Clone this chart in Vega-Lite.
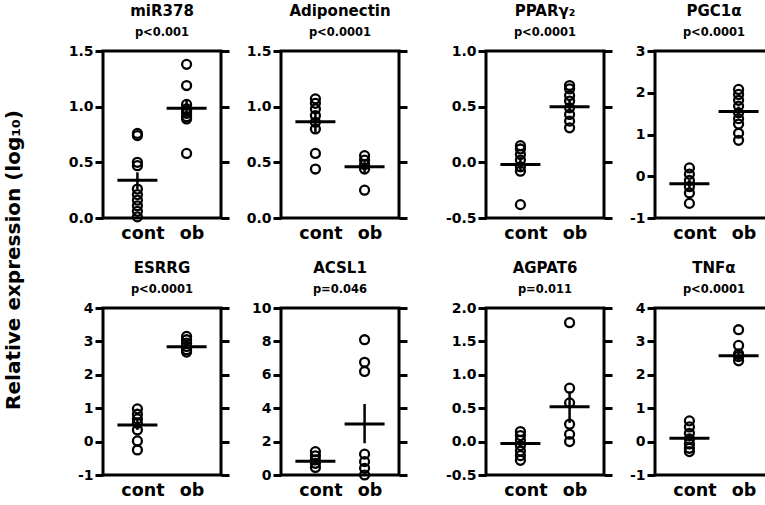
{
  "$schema": "https://vega.github.io/schema/vega-lite/v6.json",
  "padding": {"left": 3, "top": 2, "right": 5, "bottom": 3},
  "background": "white",
  "title": {"text": "Relative expression (log₁₀)", "orient": "left", "anchor": "middle", "frame": "bounds", "fontSize": 20, "fontWeight": "bold", "font": "DejaVu Sans", "color": "black", "offset": 43, "dx": -9},
  "datasets": {
    "points": [
      {"gene": "miR378", "group": "cont", "value": 0.76},
      {"gene": "miR378", "group": "cont", "value": 0.74},
      {"gene": "miR378", "group": "cont", "value": 0.50},
      {"gene": "miR378", "group": "cont", "value": 0.47},
      {"gene": "miR378", "group": "cont", "value": 0.26},
      {"gene": "miR378", "group": "cont", "value": 0.21},
      {"gene": "miR378", "group": "cont", "value": 0.16},
      {"gene": "miR378", "group": "cont", "value": 0.11},
      {"gene": "miR378", "group": "cont", "value": 0.06},
      {"gene": "miR378", "group": "cont", "value": 0.01},
      {"gene": "miR378", "group": "ob", "value": 1.38},
      {"gene": "miR378", "group": "ob", "value": 1.19},
      {"gene": "miR378", "group": "ob", "value": 1.02},
      {"gene": "miR378", "group": "ob", "value": 0.98},
      {"gene": "miR378", "group": "ob", "value": 0.96},
      {"gene": "miR378", "group": "ob", "value": 0.94},
      {"gene": "miR378", "group": "ob", "value": 0.91},
      {"gene": "miR378", "group": "ob", "value": 0.89},
      {"gene": "miR378", "group": "ob", "value": 0.58},
      {"gene": "Adiponectin", "group": "cont", "value": 1.07},
      {"gene": "Adiponectin", "group": "cont", "value": 1.03},
      {"gene": "Adiponectin", "group": "cont", "value": 0.98},
      {"gene": "Adiponectin", "group": "cont", "value": 0.92},
      {"gene": "Adiponectin", "group": "cont", "value": 0.86},
      {"gene": "Adiponectin", "group": "cont", "value": 0.80},
      {"gene": "Adiponectin", "group": "cont", "value": 0.58},
      {"gene": "Adiponectin", "group": "cont", "value": 0.44},
      {"gene": "Adiponectin", "group": "ob", "value": 0.56},
      {"gene": "Adiponectin", "group": "ob", "value": 0.52},
      {"gene": "Adiponectin", "group": "ob", "value": 0.48},
      {"gene": "Adiponectin", "group": "ob", "value": 0.44},
      {"gene": "Adiponectin", "group": "ob", "value": 0.25},
      {"gene": "PPARγ₂", "group": "cont", "value": 0.15},
      {"gene": "PPARγ₂", "group": "cont", "value": 0.12},
      {"gene": "PPARγ₂", "group": "cont", "value": 0.07},
      {"gene": "PPARγ₂", "group": "cont", "value": 0.02},
      {"gene": "PPARγ₂", "group": "cont", "value": -0.04},
      {"gene": "PPARγ₂", "group": "cont", "value": -0.08},
      {"gene": "PPARγ₂", "group": "cont", "value": -0.38},
      {"gene": "PPARγ₂", "group": "ob", "value": 0.69},
      {"gene": "PPARγ₂", "group": "ob", "value": 0.66},
      {"gene": "PPARγ₂", "group": "ob", "value": 0.60},
      {"gene": "PPARγ₂", "group": "ob", "value": 0.55},
      {"gene": "PPARγ₂", "group": "ob", "value": 0.49},
      {"gene": "PPARγ₂", "group": "ob", "value": 0.43},
      {"gene": "PPARγ₂", "group": "ob", "value": 0.37},
      {"gene": "PPARγ₂", "group": "ob", "value": 0.31},
      {"gene": "PGC1α", "group": "cont", "value": 0.20},
      {"gene": "PGC1α", "group": "cont", "value": 0.05},
      {"gene": "PGC1α", "group": "cont", "value": -0.10},
      {"gene": "PGC1α", "group": "cont", "value": -0.25},
      {"gene": "PGC1α", "group": "cont", "value": -0.40},
      {"gene": "PGC1α", "group": "cont", "value": -0.65},
      {"gene": "PGC1α", "group": "ob", "value": 2.08},
      {"gene": "PGC1α", "group": "ob", "value": 1.96},
      {"gene": "PGC1α", "group": "ob", "value": 1.82},
      {"gene": "PGC1α", "group": "ob", "value": 1.68},
      {"gene": "PGC1α", "group": "ob", "value": 1.52},
      {"gene": "PGC1α", "group": "ob", "value": 1.38},
      {"gene": "PGC1α", "group": "ob", "value": 1.25},
      {"gene": "PGC1α", "group": "ob", "value": 1.03},
      {"gene": "PGC1α", "group": "ob", "value": 0.86},
      {"gene": "ESRRG", "group": "cont", "value": 0.98},
      {"gene": "ESRRG", "group": "cont", "value": 0.82},
      {"gene": "ESRRG", "group": "cont", "value": 0.68},
      {"gene": "ESRRG", "group": "cont", "value": 0.55},
      {"gene": "ESRRG", "group": "cont", "value": 0.35},
      {"gene": "ESRRG", "group": "cont", "value": 0.02},
      {"gene": "ESRRG", "group": "cont", "value": -0.25},
      {"gene": "ESRRG", "group": "ob", "value": 3.15},
      {"gene": "ESRRG", "group": "ob", "value": 3.05},
      {"gene": "ESRRG", "group": "ob", "value": 2.95},
      {"gene": "ESRRG", "group": "ob", "value": 2.85},
      {"gene": "ESRRG", "group": "ob", "value": 2.75},
      {"gene": "ESRRG", "group": "ob", "value": 2.68},
      {"gene": "ACSL1", "group": "cont", "value": 1.40},
      {"gene": "ACSL1", "group": "cont", "value": 1.15},
      {"gene": "ACSL1", "group": "cont", "value": 0.90},
      {"gene": "ACSL1", "group": "cont", "value": 0.70},
      {"gene": "ACSL1", "group": "cont", "value": 0.45},
      {"gene": "ACSL1", "group": "ob", "value": 8.10},
      {"gene": "ACSL1", "group": "ob", "value": 6.75},
      {"gene": "ACSL1", "group": "ob", "value": 6.20},
      {"gene": "ACSL1", "group": "ob", "value": 1.25},
      {"gene": "ACSL1", "group": "ob", "value": 0.80},
      {"gene": "ACSL1", "group": "ob", "value": 0.40},
      {"gene": "ACSL1", "group": "ob", "value": 0.00},
      {"gene": "AGPAT6", "group": "cont", "value": 0.15},
      {"gene": "AGPAT6", "group": "cont", "value": 0.09},
      {"gene": "AGPAT6", "group": "cont", "value": 0.02},
      {"gene": "AGPAT6", "group": "cont", "value": -0.06},
      {"gene": "AGPAT6", "group": "cont", "value": -0.14},
      {"gene": "AGPAT6", "group": "cont", "value": -0.21},
      {"gene": "AGPAT6", "group": "cont", "value": -0.28},
      {"gene": "AGPAT6", "group": "ob", "value": 1.78},
      {"gene": "AGPAT6", "group": "ob", "value": 0.80},
      {"gene": "AGPAT6", "group": "ob", "value": 0.58},
      {"gene": "AGPAT6", "group": "ob", "value": 0.26},
      {"gene": "AGPAT6", "group": "ob", "value": 0.11},
      {"gene": "AGPAT6", "group": "ob", "value": 0.00},
      {"gene": "TNFα", "group": "cont", "value": 0.62},
      {"gene": "TNFα", "group": "cont", "value": 0.44},
      {"gene": "TNFα", "group": "cont", "value": 0.25},
      {"gene": "TNFα", "group": "cont", "value": 0.08},
      {"gene": "TNFα", "group": "cont", "value": -0.07},
      {"gene": "TNFα", "group": "cont", "value": -0.20},
      {"gene": "TNFα", "group": "cont", "value": -0.30},
      {"gene": "TNFα", "group": "ob", "value": 3.35},
      {"gene": "TNFα", "group": "ob", "value": 2.88},
      {"gene": "TNFα", "group": "ob", "value": 2.62},
      {"gene": "TNFα", "group": "ob", "value": 2.55},
      {"gene": "TNFα", "group": "ob", "value": 2.42}
    ],
    "summary": [
      {"gene": "miR378", "group": "cont", "mean": 0.34, "lo": 0.26, "hi": 0.41},
      {"gene": "miR378", "group": "ob", "mean": 0.985, "lo": 0.91, "hi": 1.06},
      {"gene": "Adiponectin", "group": "cont", "mean": 0.865, "lo": 0.77, "hi": 0.96},
      {"gene": "Adiponectin", "group": "ob", "mean": 0.46, "lo": 0.41, "hi": 0.51},
      {"gene": "PPARγ₂", "group": "cont", "mean": -0.02, "lo": -0.08, "hi": 0.05},
      {"gene": "PPARγ₂", "group": "ob", "mean": 0.50, "lo": 0.45, "hi": 0.56},
      {"gene": "PGC1α", "group": "cont", "mean": -0.18, "lo": -0.28, "hi": -0.08},
      {"gene": "PGC1α", "group": "ob", "mean": 1.55, "lo": 1.43, "hi": 1.67},
      {"gene": "ESRRG", "group": "cont", "mean": 0.50, "lo": 0.35, "hi": 0.65},
      {"gene": "ESRRG", "group": "ob", "mean": 2.84, "lo": 2.78, "hi": 2.90},
      {"gene": "ACSL1", "group": "cont", "mean": 0.82, "lo": 0.68, "hi": 0.98},
      {"gene": "ACSL1", "group": "ob", "mean": 3.05, "lo": 1.90, "hi": 4.25},
      {"gene": "AGPAT6", "group": "cont", "mean": -0.03, "lo": -0.09, "hi": 0.03},
      {"gene": "AGPAT6", "group": "ob", "mean": 0.52, "lo": 0.28, "hi": 0.75},
      {"gene": "TNFα", "group": "cont", "mean": 0.10, "lo": 0.00, "hi": 0.20},
      {"gene": "TNFα", "group": "ob", "mean": 2.57, "lo": 2.38, "hi": 2.78}
    ]
  },
  "columns": 4,
  "spacing": {"column": 12, "row": 16},
  "concat": [
    {
      "width": 118, "height": 167,
      "title": {"text": "miR378", "subtitle": "p<0.001"},
      "layer": [
        {"data": {"name": "points"}, "transform": [{"filter": "datum.gene === 'miR378'"}],
         "mark": {"type": "point", "shape": "circle", "filled": false, "color": "black", "opacity": 1, "size": 80, "strokeWidth": 2.3},
         "encoding": {"x": {"field": "group", "type": "nominal", "scale": {"type": "point", "padding": 0.7}, "axis": {"title": null}},
                      "y": {"field": "value", "type": "quantitative", "scale": {"domain": [0, 1.5], "nice": false, "zero": false}, "axis": {"title": null, "orient": "left", "values": [0, 0.5, 1, 1.5], "format": ".1f", "labelExpr": "replace(datum.label, '−', '-')"}}}},
        {"data": {"name": "summary"}, "transform": [{"filter": "datum.gene === 'miR378'"}],
         "mark": {"type": "rule", "color": "black", "opacity": 1, "strokeWidth": 2.5},
         "encoding": {"x": {"field": "group", "type": "nominal"},
                      "y": {"field": "lo", "type": "quantitative", "axis": {"title": null, "orient": "right", "labels": false, "values": [0, 0.5, 1, 1.5]}}, "y2": {"field": "hi"}}},
        {"data": {"name": "summary"}, "transform": [{"filter": "datum.gene === 'miR378'"}],
         "mark": {"type": "tick", "color": "black", "opacity": 1, "size": 40, "thickness": 3},
         "encoding": {"x": {"field": "group", "type": "nominal"},
                      "y": {"field": "mean", "type": "quantitative", "axis": null}}}
      ],
      "resolve": {"axis": {"y": "independent"}}
    },
    {
      "width": 118, "height": 167,
      "title": {"text": "Adiponectin", "subtitle": "p<0.0001"},
      "layer": [
        {"data": {"name": "points"}, "transform": [{"filter": "datum.gene === 'Adiponectin'"}],
         "mark": {"type": "point", "shape": "circle", "filled": false, "color": "black", "opacity": 1, "size": 80, "strokeWidth": 2.3},
         "encoding": {"x": {"field": "group", "type": "nominal", "scale": {"type": "point", "padding": 0.7}, "axis": {"title": null}},
                      "y": {"field": "value", "type": "quantitative", "scale": {"domain": [0, 1.5], "nice": false, "zero": false}, "axis": {"title": null, "orient": "left", "values": [0, 0.5, 1, 1.5], "format": ".1f", "labelExpr": "replace(datum.label, '−', '-')"}}}},
        {"data": {"name": "summary"}, "transform": [{"filter": "datum.gene === 'Adiponectin'"}],
         "mark": {"type": "rule", "color": "black", "opacity": 1, "strokeWidth": 2.5},
         "encoding": {"x": {"field": "group", "type": "nominal"},
                      "y": {"field": "lo", "type": "quantitative", "axis": {"title": null, "orient": "right", "labels": false, "values": [0, 0.5, 1, 1.5]}}, "y2": {"field": "hi"}}},
        {"data": {"name": "summary"}, "transform": [{"filter": "datum.gene === 'Adiponectin'"}],
         "mark": {"type": "tick", "color": "black", "opacity": 1, "size": 40, "thickness": 3},
         "encoding": {"x": {"field": "group", "type": "nominal"},
                      "y": {"field": "mean", "type": "quantitative", "axis": null}}}
      ],
      "resolve": {"axis": {"y": "independent"}}
    },
    {
      "width": 118, "height": 167,
      "title": {"text": "PPARγ₂", "subtitle": "p<0.0001"},
      "layer": [
        {"data": {"name": "points"}, "transform": [{"filter": "datum.gene === 'PPARγ₂'"}],
         "mark": {"type": "point", "shape": "circle", "filled": false, "color": "black", "opacity": 1, "size": 80, "strokeWidth": 2.3},
         "encoding": {"x": {"field": "group", "type": "nominal", "scale": {"type": "point", "padding": 0.7}, "axis": {"title": null}},
                      "y": {"field": "value", "type": "quantitative", "scale": {"domain": [-0.5, 1], "nice": false, "zero": false}, "axis": {"title": null, "orient": "left", "minExtent": 62, "values": [-0.5, 0, 0.5, 1], "format": ".1f", "labelExpr": "replace(datum.label, '−', '-')"}}}},
        {"data": {"name": "summary"}, "transform": [{"filter": "datum.gene === 'PPARγ₂'"}],
         "mark": {"type": "rule", "color": "black", "opacity": 1, "strokeWidth": 2.5},
         "encoding": {"x": {"field": "group", "type": "nominal"},
                      "y": {"field": "lo", "type": "quantitative", "axis": {"title": null, "orient": "right", "labels": false, "values": [-0.5, 0, 0.5, 1]}}, "y2": {"field": "hi"}}},
        {"data": {"name": "summary"}, "transform": [{"filter": "datum.gene === 'PPARγ₂'"}],
         "mark": {"type": "tick", "color": "black", "opacity": 1, "size": 40, "thickness": 3},
         "encoding": {"x": {"field": "group", "type": "nominal"},
                      "y": {"field": "mean", "type": "quantitative", "axis": null}}}
      ],
      "resolve": {"axis": {"y": "independent"}}
    },
    {
      "width": 118, "height": 167,
      "title": {"text": "PGC1α", "subtitle": "p<0.0001"},
      "layer": [
        {"data": {"name": "points"}, "transform": [{"filter": "datum.gene === 'PGC1α'"}],
         "mark": {"type": "point", "shape": "circle", "filled": false, "color": "black", "opacity": 1, "size": 80, "strokeWidth": 2.3},
         "encoding": {"x": {"field": "group", "type": "nominal", "scale": {"type": "point", "padding": 0.7}, "axis": {"title": null}},
                      "y": {"field": "value", "type": "quantitative", "scale": {"domain": [-1, 3], "nice": false, "zero": false}, "axis": {"title": null, "orient": "left", "values": [-1, 0, 1, 2, 3], "format": "d", "labelExpr": "replace(datum.label, '−', '-')"}}}},
        {"data": {"name": "summary"}, "transform": [{"filter": "datum.gene === 'PGC1α'"}],
         "mark": {"type": "rule", "color": "black", "opacity": 1, "strokeWidth": 2.5},
         "encoding": {"x": {"field": "group", "type": "nominal"},
                      "y": {"field": "lo", "type": "quantitative", "axis": {"title": null, "orient": "right", "labels": false, "values": [-1, 0, 1, 2, 3]}}, "y2": {"field": "hi"}}},
        {"data": {"name": "summary"}, "transform": [{"filter": "datum.gene === 'PGC1α'"}],
         "mark": {"type": "tick", "color": "black", "opacity": 1, "size": 40, "thickness": 3},
         "encoding": {"x": {"field": "group", "type": "nominal"},
                      "y": {"field": "mean", "type": "quantitative", "axis": null}}}
      ],
      "resolve": {"axis": {"y": "independent"}}
    },
    {
      "width": 118, "height": 167,
      "title": {"text": "ESRRG", "subtitle": "p<0.0001"},
      "layer": [
        {"data": {"name": "points"}, "transform": [{"filter": "datum.gene === 'ESRRG'"}],
         "mark": {"type": "point", "shape": "circle", "filled": false, "color": "black", "opacity": 1, "size": 80, "strokeWidth": 2.3},
         "encoding": {"x": {"field": "group", "type": "nominal", "scale": {"type": "point", "padding": 0.7}, "axis": {"title": null}},
                      "y": {"field": "value", "type": "quantitative", "scale": {"domain": [-1, 4], "nice": false, "zero": false}, "axis": {"title": null, "orient": "left", "values": [-1, 0, 1, 2, 3, 4], "format": "d", "labelExpr": "replace(datum.label, '−', '-')"}}}},
        {"data": {"name": "summary"}, "transform": [{"filter": "datum.gene === 'ESRRG'"}],
         "mark": {"type": "rule", "color": "black", "opacity": 1, "strokeWidth": 2.5},
         "encoding": {"x": {"field": "group", "type": "nominal"},
                      "y": {"field": "lo", "type": "quantitative", "axis": {"title": null, "orient": "right", "labels": false, "values": [-1, 0, 1, 2, 3, 4]}}, "y2": {"field": "hi"}}},
        {"data": {"name": "summary"}, "transform": [{"filter": "datum.gene === 'ESRRG'"}],
         "mark": {"type": "tick", "color": "black", "opacity": 1, "size": 40, "thickness": 3},
         "encoding": {"x": {"field": "group", "type": "nominal"},
                      "y": {"field": "mean", "type": "quantitative", "axis": null}}}
      ],
      "resolve": {"axis": {"y": "independent"}}
    },
    {
      "width": 118, "height": 167,
      "title": {"text": "ACSL1", "subtitle": "p=0.046"},
      "layer": [
        {"data": {"name": "points"}, "transform": [{"filter": "datum.gene === 'ACSL1'"}],
         "mark": {"type": "point", "shape": "circle", "filled": false, "color": "black", "opacity": 1, "size": 80, "strokeWidth": 2.3},
         "encoding": {"x": {"field": "group", "type": "nominal", "scale": {"type": "point", "padding": 0.7}, "axis": {"title": null}},
                      "y": {"field": "value", "type": "quantitative", "scale": {"domain": [0, 10], "nice": false, "zero": false}, "axis": {"title": null, "orient": "left", "values": [0, 2, 4, 6, 8, 10], "format": "d", "labelExpr": "replace(datum.label, '−', '-')"}}}},
        {"data": {"name": "summary"}, "transform": [{"filter": "datum.gene === 'ACSL1'"}],
         "mark": {"type": "rule", "color": "black", "opacity": 1, "strokeWidth": 2.5},
         "encoding": {"x": {"field": "group", "type": "nominal"},
                      "y": {"field": "lo", "type": "quantitative", "axis": {"title": null, "orient": "right", "labels": false, "values": [0, 2, 4, 6, 8, 10]}}, "y2": {"field": "hi"}}},
        {"data": {"name": "summary"}, "transform": [{"filter": "datum.gene === 'ACSL1'"}],
         "mark": {"type": "tick", "color": "black", "opacity": 1, "size": 40, "thickness": 3},
         "encoding": {"x": {"field": "group", "type": "nominal"},
                      "y": {"field": "mean", "type": "quantitative", "axis": null}}}
      ],
      "resolve": {"axis": {"y": "independent"}}
    },
    {
      "width": 118, "height": 167,
      "title": {"text": "AGPAT6", "subtitle": "p=0.011"},
      "layer": [
        {"data": {"name": "points"}, "transform": [{"filter": "datum.gene === 'AGPAT6'"}],
         "mark": {"type": "point", "shape": "circle", "filled": false, "color": "black", "opacity": 1, "size": 80, "strokeWidth": 2.3},
         "encoding": {"x": {"field": "group", "type": "nominal", "scale": {"type": "point", "padding": 0.7}, "axis": {"title": null}},
                      "y": {"field": "value", "type": "quantitative", "scale": {"domain": [-0.5, 2], "nice": false, "zero": false}, "axis": {"title": null, "orient": "left", "minExtent": 62, "values": [-0.5, 0, 0.5, 1, 1.5, 2], "format": ".1f", "labelExpr": "replace(datum.label, '−', '-')"}}}},
        {"data": {"name": "summary"}, "transform": [{"filter": "datum.gene === 'AGPAT6'"}],
         "mark": {"type": "rule", "color": "black", "opacity": 1, "strokeWidth": 2.5},
         "encoding": {"x": {"field": "group", "type": "nominal"},
                      "y": {"field": "lo", "type": "quantitative", "axis": {"title": null, "orient": "right", "labels": false, "values": [-0.5, 0, 0.5, 1, 1.5, 2]}}, "y2": {"field": "hi"}}},
        {"data": {"name": "summary"}, "transform": [{"filter": "datum.gene === 'AGPAT6'"}],
         "mark": {"type": "tick", "color": "black", "opacity": 1, "size": 40, "thickness": 3},
         "encoding": {"x": {"field": "group", "type": "nominal"},
                      "y": {"field": "mean", "type": "quantitative", "axis": null}}}
      ],
      "resolve": {"axis": {"y": "independent"}}
    },
    {
      "width": 118, "height": 167,
      "title": {"text": "TNFα", "subtitle": "p<0.0001"},
      "layer": [
        {"data": {"name": "points"}, "transform": [{"filter": "datum.gene === 'TNFα'"}],
         "mark": {"type": "point", "shape": "circle", "filled": false, "color": "black", "opacity": 1, "size": 80, "strokeWidth": 2.3},
         "encoding": {"x": {"field": "group", "type": "nominal", "scale": {"type": "point", "padding": 0.7}, "axis": {"title": null}},
                      "y": {"field": "value", "type": "quantitative", "scale": {"domain": [-1, 4], "nice": false, "zero": false}, "axis": {"title": null, "orient": "left", "values": [-1, 0, 1, 2, 3, 4], "format": "d", "labelExpr": "replace(datum.label, '−', '-')"}}}},
        {"data": {"name": "summary"}, "transform": [{"filter": "datum.gene === 'TNFα'"}],
         "mark": {"type": "rule", "color": "black", "opacity": 1, "strokeWidth": 2.5},
         "encoding": {"x": {"field": "group", "type": "nominal"},
                      "y": {"field": "lo", "type": "quantitative", "axis": {"title": null, "orient": "right", "labels": false, "values": [-1, 0, 1, 2, 3, 4]}}, "y2": {"field": "hi"}}},
        {"data": {"name": "summary"}, "transform": [{"filter": "datum.gene === 'TNFα'"}],
         "mark": {"type": "tick", "color": "black", "opacity": 1, "size": 40, "thickness": 3},
         "encoding": {"x": {"field": "group", "type": "nominal"},
                      "y": {"field": "mean", "type": "quantitative", "axis": null}}}
      ],
      "resolve": {"axis": {"y": "independent"}}
    }
  ],
  "config": {
    "font": "DejaVu Sans",
    "view": {"stroke": "black", "strokeWidth": 3},
    "axis": {"domain": false, "grid": false, "tickColor": "black", "tickWidth": 3, "tickSize": 8, "labelFont": "DejaVu Sans", "labelFontWeight": "bold", "labelColor": "black", "labelFontSize": 14, "labelPadding": 2},
    "axisX": {"ticks": false, "labelFontSize": 17.5, "labelPadding": 6, "labelAngle": 0, "labelOffset": 5},
    "title": {"fontSize": 15, "fontWeight": "bold", "font": "DejaVu Sans", "color": "black", "subtitleFont": "DejaVu Sans", "subtitleFontSize": 11.5, "subtitleFontWeight": "bold", "subtitleColor": "black", "subtitlePadding": 8, "anchor": "middle", "frame": "group", "offset": 6}
  }
}
